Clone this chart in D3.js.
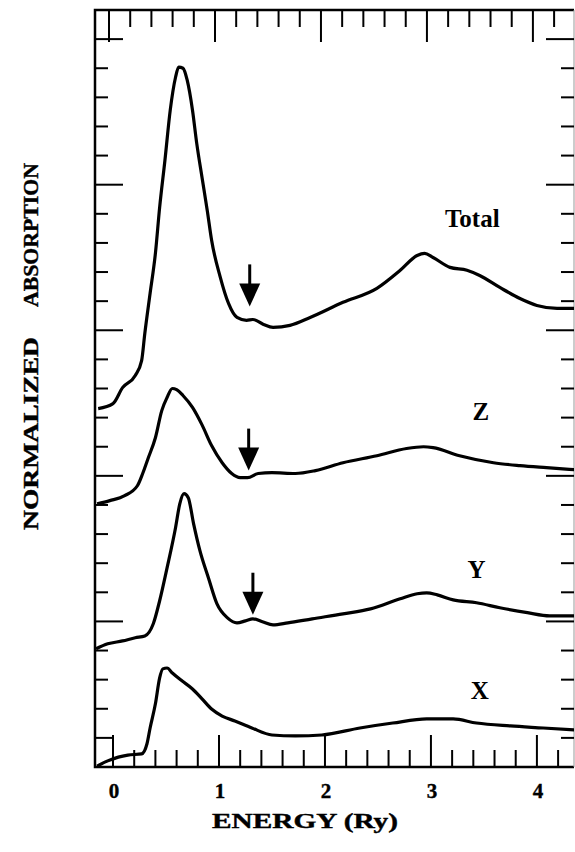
<!DOCTYPE html>
<html>
<head>
<meta charset="utf-8">
<script src="https://cdn.jsdelivr.net/npm/d3@7"></script>
<style>
  body { margin: 0; background: #fff; }
  text { font-family: "Liberation Serif", "Times New Roman", serif; font-weight: bold; fill: #000; }
</style>
</head>
<body>
<div id="chart"></div>
<script>
// page + plot box
const width = 575;
const height = 852;
const box = { left: 95, right: 574, top: 10, bottom: 767 };

// spectra: energy (Ry) and stacked absorption (tick units)
const totalEnergy = [-0.14, 0.00, 0.09, 0.21, 0.27, 0.30, 0.35, 0.40, 0.44, 0.49, 0.54, 0.59, 0.62, 0.66, 0.70, 0.75, 0.79, 0.84, 0.89, 0.93, 1.01, 1.09, 1.17, 1.26, 1.32, 1.42, 1.51, 1.67, 1.86, 2.17, 2.49, 2.71, 2.87, 2.94, 3.02, 3.18, 3.34, 3.46, 3.65, 3.84, 4.00, 4.19, 4.36];
const totalAbs = [12.31, 12.48, 13.03, 13.45, 13.96, 14.89, 16.27, 17.64, 19.22, 20.84, 22.56, 23.69, 24.04, 24.00, 23.59, 22.56, 21.42, 20.25, 19.10, 18.10, 16.85, 15.92, 15.44, 15.34, 15.37, 15.20, 15.10, 15.17, 15.44, 15.96, 16.44, 17.06, 17.57, 17.64, 17.50, 17.16, 17.06, 16.88, 16.47, 16.09, 15.85, 15.75, 15.75];

const zEnergy = [-0.15, -0.03, 0.11, 0.23, 0.28, 0.33, 0.40, 0.46, 0.51, 0.56, 0.60, 0.66, 0.75, 0.84, 0.93, 1.03, 1.12, 1.20, 1.27, 1.37, 1.50, 1.72, 1.91, 2.17, 2.49, 2.77, 2.93, 3.02, 3.27, 3.59, 3.84, 4.09, 4.36];
const zAbs = [9.04, 9.15, 9.32, 9.66, 10.08, 10.59, 11.31, 12.24, 12.69, 13.00, 12.96, 12.76, 12.35, 11.75, 11.04, 10.45, 10.08, 9.94, 9.94, 10.08, 10.11, 10.08, 10.18, 10.45, 10.69, 10.94, 11.00, 10.97, 10.69, 10.45, 10.35, 10.28, 10.21];

const yEnergy = [-0.16, -0.05, 0.09, 0.21, 0.30, 0.38, 0.44, 0.51, 0.59, 0.63, 0.67, 0.71, 0.76, 0.82, 0.90, 0.98, 1.08, 1.17, 1.25, 1.32, 1.41, 1.51, 1.65, 1.88, 2.17, 2.43, 2.71, 2.87, 2.96, 3.06, 3.21, 3.43, 3.65, 3.91, 4.12, 4.36];
const yAbs = [4.06, 4.23, 4.33, 4.44, 4.50, 4.92, 5.71, 6.84, 8.22, 9.04, 9.39, 9.25, 8.36, 7.43, 6.50, 5.61, 5.12, 4.95, 5.02, 5.09, 4.99, 4.88, 4.95, 5.09, 5.26, 5.43, 5.78, 5.95, 5.98, 5.91, 5.74, 5.64, 5.47, 5.30, 5.19, 5.19];

const xEnergy = [-0.15, -0.05, 0.05, 0.14, 0.27, 0.32, 0.35, 0.40, 0.44, 0.47, 0.51, 0.56, 0.65, 0.75, 0.84, 0.93, 1.03, 1.15, 1.31, 1.50, 1.72, 1.97, 2.33, 2.64, 2.96, 3.21, 3.43, 3.75, 4.06, 4.36];
const xAbs = [0.03, 0.21, 0.34, 0.41, 0.45, 0.79, 1.34, 2.17, 3.06, 3.37, 3.40, 3.23, 2.96, 2.68, 2.34, 1.99, 1.75, 1.58, 1.34, 1.10, 1.07, 1.10, 1.34, 1.51, 1.65, 1.65, 1.51, 1.41, 1.34, 1.27];

const curveNames = ["Total", "Z", "Y", "X"];

// arrows marking the 1.3 Ry feature (energy, tip level)
const arrowEnergy = [1.29, 1.28, 1.32];
const arrowTip = [15.82, 10.18, 5.23];

// axis ticks
const xTickLabels = [0, 1, 2, 3, 4];
const xMinorTicks = d3.range(0, 22).map(i => i / 5);   // 0 .. 4.2 every 0.2
const yTicks = d3.range(1, 26);                         // 1 .. 25

const svg = d3.select("#chart")
  .append("svg")
  .attr("width", width)
  .attr("height", height);

const x = d3.scaleLinear().domain([-0.17, 4.35]).range([box.left, box.right]);
const y = d3.scaleLinear().domain([0, 26]).range([box.bottom, box.top]);

svg.append("clipPath").attr("id", "plot-clip")
  .append("rect")
  .attr("x", box.left).attr("y", box.top)
  .attr("width", box.right - box.left).attr("height", box.bottom - box.top);

// frame (right edge is faint in the scan)
svg.append("path")
  .attr("d", `M${box.right},${box.top}H${box.left}V${box.bottom}H${box.right}`)
  .attr("fill", "none").attr("stroke", "#000").attr("stroke-width", 2.5);
svg.append("line")
  .attr("x1", box.right).attr("x2", box.right).attr("y1", box.top).attr("y2", box.bottom)
  .attr("stroke", "#999").attr("stroke-width", 1);

const isMajor = v => Math.abs(v - Math.round(v)) < 1e-6;

// bottom + top ticks point inward (top axis sits a few px left in the original)
const ticks = svg.append("g").attr("stroke", "#000").attr("stroke-width", 2);
ticks.selectAll(".bt").data(xMinorTicks).enter().append("line")
  .attr("x1", d => x(d)).attr("x2", d => x(d))
  .attr("y1", box.bottom).attr("y2", d => box.bottom - (isMajor(d) ? 32 : 17));
ticks.selectAll(".tt").data(xMinorTicks).enter().append("line")
  .attr("x1", d => x(d) - 4).attr("x2", d => x(d) - 4)
  .attr("y1", box.top).attr("y2", d => box.top + (isMajor(d) ? 32 : 17));

// left + right ticks
ticks.selectAll(".lt").data(yTicks).enter().append("line")
  .attr("y1", d => y(d)).attr("y2", d => y(d))
  .attr("x1", box.left).attr("x2", d => box.left + (d % 5 === 0 ? 28 : (d === 1 ? x(0) - box.left : 13)));
ticks.selectAll(".rt").data(yTicks).enter().append("line")
  .attr("y1", d => y(d)).attr("y2", d => y(d))
  .attr("x1", box.right).attr("x2", d => box.right - (d % 5 === 0 ? 28 : 13));

// tick labels
svg.selectAll(".xlabel").data(xTickLabels).enter().append("text")
  .attr("x", d => x(d) + 1)
  .attr("y", 798)
  .attr("text-anchor", "middle")
  .attr("font-size", 21)
  .attr("stroke", "#000").attr("stroke-width", 0.4)
  .text(d => d);

// axis titles
svg.append("text")
  .attr("x", 212).attr("y", 828)
  .attr("font-size", 20.5)
  .attr("stroke", "#000").attr("stroke-width", 0.4)
  .attr("textLength", 186).attr("lengthAdjust", "spacingAndGlyphs")
  .text("ENERGY (Ry)");

svg.append("text")
  .attr("transform", "translate(38,530) rotate(-90)")
  .attr("font-size", 20.5)
  .attr("stroke", "#000").attr("stroke-width", 0.4)
  .attr("textLength", 193).attr("lengthAdjust", "spacingAndGlyphs")
  .text("NORMALIZED");
svg.append("text")
  .attr("transform", "translate(38,307) rotate(-90)")
  .attr("font-size", 20.5)
  .attr("stroke", "#000").attr("stroke-width", 0.4)
  .attr("textLength", 144).attr("lengthAdjust", "spacingAndGlyphs")
  .text("ABSORPTION");

// curves
const series = [
  { name: curveNames[0], e: totalEnergy, a: totalAbs },
  { name: curveNames[1], e: zEnergy, a: zAbs },
  { name: curveNames[2], e: yEnergy, a: yAbs },
  { name: curveNames[3], e: xEnergy, a: xAbs }
];

const line = d3.line()
  .x(d => x(d[0]))
  .y(d => y(d[1]))
  .curve(d3.curveMonotoneX);

svg.append("g").attr("clip-path", "url(#plot-clip)")
  .selectAll("path")
  .data(series)
  .enter()
  .append("path")
  .attr("d", s => line(s.e.map((e, i) => [e, s.a[i]])))
  .attr("fill", "none")
  .attr("stroke", "#000")
  .attr("stroke-width", 3.2)
  .attr("stroke-linejoin", "round");

// curve names, placed at (energy, level) of the label centre / baseline
const labelSpots = [[3.39, 18.56], [3.47, 11.92], [3.43, 6.49], [3.46, 2.34]];
svg.selectAll(".curve-name").data(curveNames).enter().append("text")
  .attr("x", (d, i) => x(labelSpots[i][0]))
  .attr("y", (d, i) => y(labelSpots[i][1]))
  .attr("text-anchor", "middle")
  .attr("font-size", 25)
  .text(d => d);

// arrows
const shaft = 42, headW = 21, headH = 23;
const arrows = svg.selectAll(".arrow").data(arrowEnergy).enter().append("g");
arrows.append("line")
  .attr("x1", d => x(d)).attr("x2", d => x(d))
  .attr("y1", (d, i) => y(arrowTip[i]) - shaft)
  .attr("y2", (d, i) => y(arrowTip[i]) - headH + 2)
  .attr("stroke", "#000").attr("stroke-width", 3);
arrows.append("path")
  .attr("d", (d, i) => {
    const tx = x(d), ty = y(arrowTip[i]);
    return `M${tx - headW / 2},${ty - headH}L${tx + headW / 2},${ty - headH}L${tx},${ty}Z`;
  })
  .attr("fill", "#000");
</script>
</body>
</html>
